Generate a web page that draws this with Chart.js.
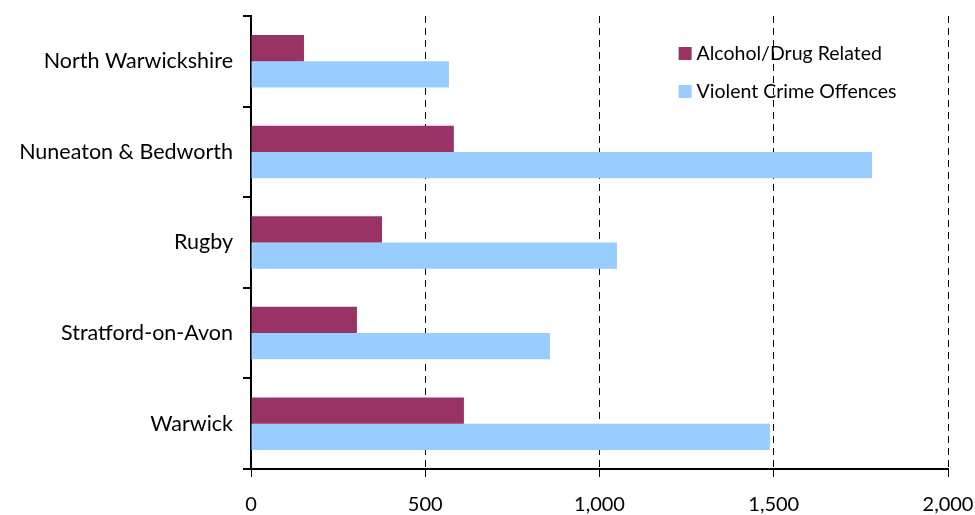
<!DOCTYPE html>
<html>
<head>
<meta charset="utf-8">
<script src="https://cdn.jsdelivr.net/npm/chart.js@4.4.0/dist/chart.umd.min.js"></script>
<style>
  html, body { margin: 0; padding: 0; background: #ffffff; }
  #wrap { width: 975px; height: 515px; position: relative; }
</style>
</head>
<body>
<div id="wrap"><canvas id="c" width="975" height="515"></canvas></div>
<script>
// Districts and offence counts
const districts = ['North Warwickshire', 'Nuneaton & Bedworth', 'Rugby', 'Stratford-on-Avon', 'Warwick'];
const alcoholDrug = [152, 582, 376, 304, 611];
const violentCrime = [568, 1782, 1050, 858, 1489];
const seriesNames = ['Alcohol/Drug Related', 'Violent Crime Offences'];
const seriesColors = ['#993366', '#99CCFF'];
const xTicks = [0, 500, 1000, 1500, 2000];

const FONT = 'Lato, "Open Sans", sans-serif';

// Legend drawn inside the plot area, top right
const insideLegend = {
  id: 'insideLegend',
  afterDraw(chart) {
    const ctx = chart.ctx;
    const x0 = chart.scales.x.getPixelForValue(1227);
    const rows = [54, 92];
    ctx.save();
    ctx.font = '19.5px ' + FONT;
    ctx.textBaseline = 'middle';
    chart.data.datasets.forEach((ds, i) => {
      const y = rows[i];
      ctx.fillStyle = ds.backgroundColor;
      ctx.fillRect(x0, y - 7, 13, 13);
      ctx.fillStyle = '#000000';
      ctx.fillText(ds.label, x0 + 18, y);
    });
    ctx.restore();
  }
};

new Chart(document.getElementById('c'), {
  type: 'bar',
  data: {
    labels: districts,
    datasets: [
      { label: seriesNames[0], data: alcoholDrug, backgroundColor: seriesColors[0] },
      { label: seriesNames[1], data: violentCrime, backgroundColor: seriesColors[1] }
    ]
  },
  options: {
    indexAxis: 'y',
    responsive: false,
    animation: false,
    devicePixelRatio: 1,
    layout: { padding: { top: 16, right: 27, left: 0, bottom: 0 } },
    datasets: {
      bar: { categoryPercentage: 0.58, barPercentage: 1.0, borderWidth: 0 }
    },
    plugins: {
      legend: { display: false },
      tooltip: { enabled: false },
      title: { display: false }
    },
    scales: {
      x: {
        type: 'linear',
        min: 0,
        max: 2000,
        afterBuildTicks(scale) { scale.ticks = xTicks.map(v => ({ value: v })); },
        afterFit(scale) {
          scale.height = 46;
          scale.paddingLeft = 0;
          scale.paddingRight = 0;
        },
        grid: {
          color: (c) => (c.tick && c.tick.value === 0 ? 'rgba(0,0,0,0)' : '#000000'),
          tickColor: '#000000',
          lineWidth: 1,
          drawTicks: true,
          tickLength: 8,
          tickBorderDash: []
        },
        border: { display: true, color: '#000000', width: 2, dash: [7, 5] },
        ticks: {
          color: '#000000',
          font: { family: FONT, size: 20 },
          padding: 16,
          maxRotation: 0,
          callback: (v) => Number(v).toLocaleString('en-GB')
        }
      },
      y: {
        type: 'category',
        offset: true,
        afterFit(scale) {
          scale.width = 251;
          scale.paddingTop = 0;
          scale.paddingBottom = 0;
        },
        grid: {
          offset: true,
          drawOnChartArea: false,
          drawTicks: true,
          tickLength: 8,
          color: '#000000',
          lineWidth: 2
        },
        border: { display: true, color: '#000000', width: 2 },
        ticks: {
          color: '#000000',
          font: { family: FONT, size: 21.5 },
          padding: 10
        }
      }
    }
  },
  plugins: [insideLegend]
});
</script>
</body>
</html>
